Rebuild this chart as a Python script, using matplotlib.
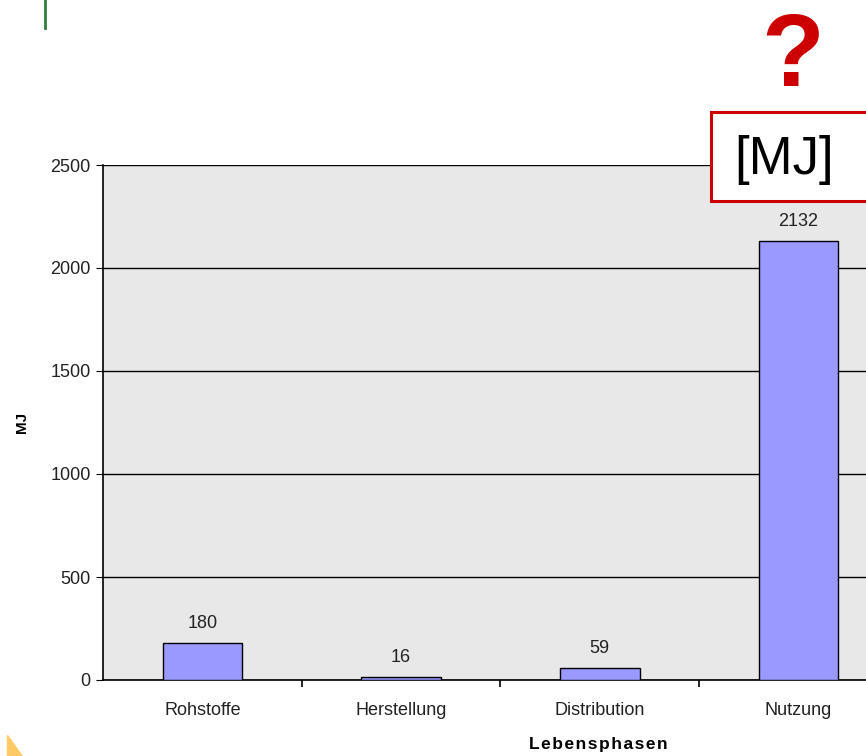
import matplotlib
matplotlib.use("Agg")
import matplotlib.pyplot as plt
from matplotlib.patches import Rectangle, Polygon

phases = ["Rohstoffe", "Herstellung", "Distribution", "Nutzung"]
energy_mj = [180, 16, 59, 2132]
y_ticks = [0, 500, 1000, 1500, 2000, 2500]

FONT = "Liberation Sans"
FS = 13

fig = plt.figure(figsize=(8.66, 7.56), dpi=100)
fig.patch.set_facecolor("white")

# plot area runs past the right edge of the picture (cropped slide)
ax = fig.add_axes([103 / 866, 1 - 680 / 756, 795 / 866, 515 / 756])
ax.set_facecolor("#e8e8e8")
x = list(range(len(phases)))
ax.bar(x, energy_mj, width=0.4, color="#9999ff", edgecolor="black", linewidth=1.0, zorder=3)
for xi, v in zip(x, energy_mj):
    ax.annotate(str(v), (xi, v), xytext=(0, 8), textcoords="offset points",
                ha="center", va="bottom", fontsize=FS, family=FONT, color="#222")

ax.set_xlim(-0.5, len(phases) - 0.5)
ax.set_ylim(0, 2500)
ax.set_yticks(y_ticks)
ax.set_yticklabels([str(t) for t in y_ticks], fontsize=FS, family=FONT, color="#222")
ax.yaxis.grid(True, color="black", linewidth=1.0, zorder=1)
ax.set_axisbelow(True)
ax.set_xticks(x)
ax.set_xticklabels(phases, fontsize=FS, family=FONT, color="#222")
ax.tick_params(axis="x", length=0, pad=16)
ax.tick_params(axis="y", length=5, direction="out", pad=4)
ax.set_xticks([i + 0.5 for i in x[:-1]], minor=True)
ax.tick_params(axis="x", which="minor", length=5, direction="out", width=1.2)
for s in ["top", "right"]:
    ax.spines[s].set_visible(False)
ax.spines["left"].set_linewidth(1.2)
ax.spines["bottom"].set_linewidth(1.2)
ax.set_ylabel("MJ", fontsize=11, fontweight="bold", family=FONT)
ax.yaxis.set_label_coords(-(103 - 22) / 795, (680 - 422) / 515)
ax.yaxis.label.set_va("center")
ax.set_xlabel("\u200a".join("Lebensphasen"), fontsize=12.5, fontweight="bold", family=FONT)
ax.xaxis.set_label_coords((598 - 103) / 795, -(745 - 680) / 515)
ax.xaxis.label.set_va("center")

# slide decorations
fig.add_artist(plt.Line2D([45 / 866, 45 / 866], [1, 1 - 28 / 756], color="#2e7d3e", lw=2))
fig.add_artist(Polygon([[7 / 866, 1 - 735 / 756], [7 / 866, 0], [22 / 866, 0]],
                       closed=True, color="#ffc966", transform=fig.transFigure))
fig.text(793 / 866, 1 - 60 / 756, "?", color="#cc0000", fontsize=74, fontweight="bold",
         family=FONT, ha="center", va="center")
fig.add_artist(Rectangle((711 / 866, 1 - 201 / 756), 170 / 866, 89 / 756,
                         transform=fig.transFigure, facecolor="white",
                         edgecolor="#cc0000", linewidth=2.2, zorder=5))
fig.text(784 / 866, 1 - 160 / 756, "[MJ]", fontsize=38, family=FONT,
         ha="center", va="center", zorder=6)

fig.savefig("out.png", dpi=100)
